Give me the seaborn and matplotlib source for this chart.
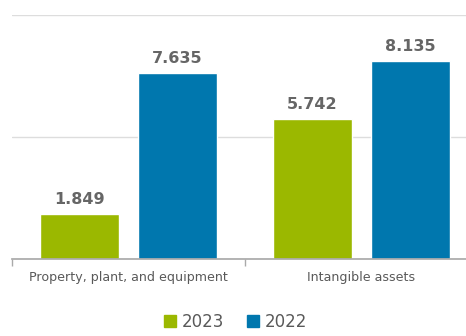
import pandas as pd
import seaborn as sns
import matplotlib.pyplot as plt
from matplotlib.patches import Patch

categories = ['Property, plant, and equipment', 'Intangible assets']
years = ['2023', '2022']
values_2023 = [1.849, 5.742]
values_2022 = [7.635, 8.135]
colors = ['#9BB800', '#0077AE']

df = pd.DataFrame({
    'category': categories * 2,
    'year': [years[0]] * 2 + [years[1]] * 2,
    'value': values_2023 + values_2022,
})

sns.set_theme(style='white')
plt.rcParams['font.family'] = ['DejaVu Sans']

fig = plt.figure(figsize=(4.66, 3.36), dpi=100)
# axes run a bit past the right edge, like the cropped original
ax = fig.add_axes([12 / 466, 1 - 259 / 336, 466 / 466, 244 / 336])

sns.barplot(data=df, x='category', y='value', hue='year', palette=colors,
            width=0.84, gap=0.19, ax=ax, legend=False, saturation=1)

for cont in ax.containers:
    ax.bar_label(cont, labels=[f'{v:.3f}' for v in cont.datavalues],
                 padding=5, fontsize=11.5, fontweight='bold', color='#666666')

ax.set_ylim(0, 10)
ax.set_xlim(-0.5, 1.5)
ax.set_yticks([0, 5, 10])
ax.set_yticklabels([])
ax.tick_params(axis='y', length=0)
ax.grid(axis='y', color='#dddddd', linewidth=1)
ax.set_axisbelow(True)
ax.set_xlabel('')
ax.set_ylabel('')
for s in ['top', 'right', 'left']:
    ax.spines[s].set_visible(False)
ax.spines['bottom'].set_color('#aaaaaa')
ax.set_xticks([-0.5, 0.5, 1.5], minor=True)
ax.tick_params(axis='x', which='minor', bottom=True, length=5, color='#aaaaaa', width=1)
ax.tick_params(axis='x', which='major', bottom=False, labelsize=9.1,
               labelcolor='#595959', pad=3)

handles = [Patch(color=c, label=y) for c, y in zip(colors, years)]
fig.legend(handles=handles, loc='lower center', bbox_to_anchor=(0.505, -0.03),
           ncol=2, frameon=False, fontsize=12, handlelength=0.75, handleheight=0.75,
           handletextpad=0.3, columnspacing=1.4, labelcolor='#595959')

fig.savefig('out.png', dpi=100)
